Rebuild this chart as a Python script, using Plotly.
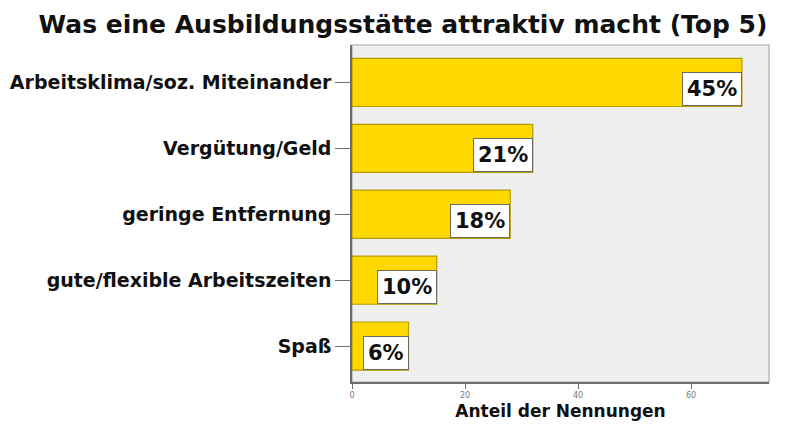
import plotly.graph_objects as go

# Daten (Anzahl der Nennungen, Prozentangaben als Beschriftung)
kategorien = [
    "Arbeitsklima/soz. Miteinander",
    "Vergütung/Geld",
    "geringe Entfernung",
    "gute/flexible Arbeitszeiten",
    "Spaß",
]
nennungen = [69, 32, 28, 15, 10]
prozent = ["45%", "21%", "18%", "10%", "6%"]

GELB = "#FFD800"
RAND = "#B39B00"
SCHRIFT = "DejaVu Sans, Arial, sans-serif"

fig = go.Figure(go.Bar(
    x=nennungen, y=kategorien, orientation="h",
    width=0.73,
    marker=dict(color=GELB, line=dict(color=RAND, width=1.2)),
    hoverinfo="x+y",
))

# Prozent-Boxen rechts unten im Balken
for kat, wert, txt in zip(kategorien, nennungen, prozent):
    fig.add_annotation(
        x=wert, y=kat, text=f"<b>{txt}</b>", showarrow=False,
        xanchor="right", yanchor="bottom", yshift=-24,
        font=dict(family=SCHRIFT, size=21, color="#111111"),
        bgcolor="white", bordercolor="#6E6E5A", borderwidth=1, borderpad=4,
    )

# Seite hat 8px Rand -> Figur etwas kleiner
fig.update_layout(
    width=790, height=429,
    paper_bgcolor="white", plot_bgcolor="#EFEFEF",
    margin=dict(l=344, r=29, t=37, b=55, autoexpand=False),
    title=dict(
        text="<b>Was eine Ausbildungsstätte attraktiv macht (Top 5)</b>",
        x=0.5, xanchor="center", yref="container", y=0.962, yanchor="middle",
        font=dict(family=SCHRIFT, size=25, color="#111111"),
    ),
    showlegend=False,
)
fig.update_xaxes(
    range=[0, 73.8], tickvals=[0, 20, 40, 60], automargin=False,
    showgrid=False, zeroline=False,
    showline=True, linecolor="#6E6E6E", linewidth=1.5,
    ticks="outside", ticklen=5, tickcolor="#6E6E6E",
    tickfont=dict(family=SCHRIFT, size=8, color="#777777"),
    title=dict(text="<b>Anteil der Nennungen</b>", standoff=6,
               font=dict(family=SCHRIFT, size=17, color="#111111")),
)
fig.update_yaxes(
    range=[4.545, -0.568], showgrid=False, zeroline=False, automargin=False,
    showline=True, linecolor="#6E6E6E", linewidth=1.5,
    ticks="outside", ticklen=15, tickcolor="#6E6E6E",
    tickfont=dict(family=SCHRIFT, size=19, color="#111111"),
    tickprefix="<b>", ticksuffix="</b>", ticklabelstandoff=0,
)
# grauer Rahmen oben/rechts
fig.add_shape(type="rect", xref="paper", yref="paper", x0=0, y0=0, x1=1, y1=1,
              line=dict(color="#A8A8A8", width=1.2), layer="below")

fig.write_html("out.html")
